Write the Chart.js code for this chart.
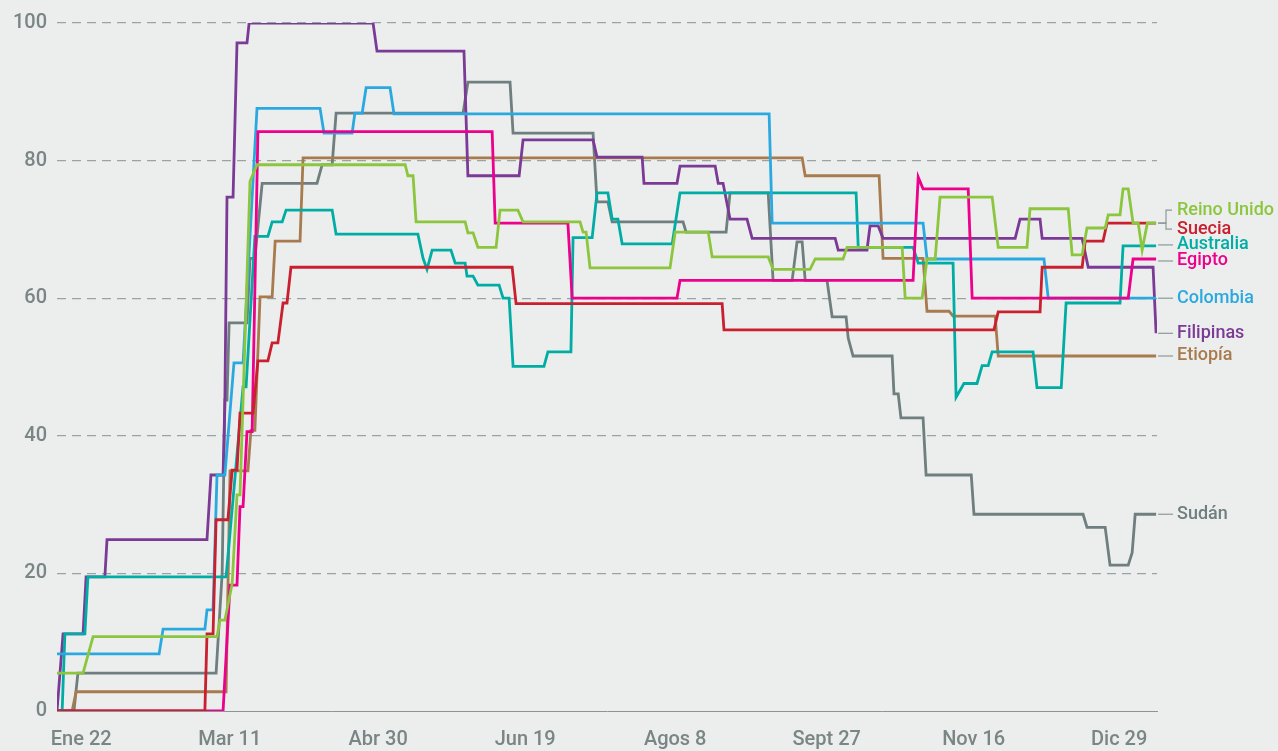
<!DOCTYPE html>
<html>
<head>
<meta charset="utf-8">
<script src="https://cdn.jsdelivr.net/npm/chart.js@4"></script>
<style>
  html, body { margin: 0; padding: 0; background: #eceeed; }
  #wrap { width: 1278px; height: 751px; }
</style>
</head>
<body>
<div id="wrap"><canvas id="chart" width="1278" height="751"></canvas></div>
<script>
// x = days since the start of the series, y = index value
const tickDays = [8, 57, 106, 154.5, 204, 254, 302.5, 350.5];
const tickLabels = ['Ene 22', 'Mar 11', 'Abr 30', 'Jun 19', 'Agos 8', 'Sept 27', 'Nov 16', 'Dic 29'];

const reinoUnido = [[0,5.5],[8.6,5.5],[11.9,10.8],[52.8,10.8],[53.8,13.2],[55.4,13.2],[57.8,18.5],[59.4,31.4],[60.4,31.4],[63.7,77],[66,79.4],[114.9,79.4],[115.8,77.8],[117.5,77.8],[118.5,71.1],[134.7,71.1],[135.6,69.5],[137.3,69.5],[138.9,67.4],[144.9,67.4],[146.2,72.8],[152.1,72.8],[153.8,71.1],[172.6,71.1],[173.6,69.6],[174.6,69.6],[175.9,64.4],[202.3,64.4],[204,69.6],[214.9,69.6],[216.2,66],[234.7,66],[236.3,64.2],[248.5,64.2],[250.2,65.7],[259.4,65.7],[260.7,67.4],[278.9,67.4],[279.9,60],[285.5,60],[287.1,65.7],[289.8,65.7],[291.4,74.7],[308.6,74.7],[310.6,67.4],[320.1,67.4],[321.1,73],[333.7,73],[335,66.3],[338.3,66.3],[339.9,70.2],[345.9,70.2],[346.9,72.1],[350.8,72.1],[351.8,75.9],[353.5,75.9],[355.1,70.9],[356.8,70.9],[358.1,67],[359.8,70.9],[362.7,70.9]];
const suecia = [[0,0],[48.8,0],[49.5,11.2],[51.5,11.2],[52.5,27.8],[56.4,27.8],[57.8,35],[59.4,35],[60.4,43.3],[64.7,43.3],[66.3,50.9],[69.6,50.9],[71,53.5],[72.9,53.5],[74.6,59.3],[75.9,59.3],[77.2,64.5],[150.2,64.5],[151.5,59.2],[219.5,59.2],[220.1,55.4],[309.2,55.4],[310.6,58],[324.4,58],[325.1,64.5],[338.3,64.5],[339.3,68.3],[345.2,68.3],[346.5,70.9],[362.7,70.9]];
const australia = [[0,0],[1.7,0],[2.6,11.2],[9.2,11.2],[10.2,19.5],[55.8,19.5],[61.4,47.1],[62.4,47.1],[65.3,69],[69.6,69],[71,71.1],[74.3,71.1],[75.6,72.8],[90.8,72.8],[92.1,69.3],[119.1,69.3],[120.8,65.8],[122.1,64.2],[123.8,67],[130,67],[131.4,65.1],[134.7,65.1],[135.3,63.2],[137.3,63.2],[138.9,61.9],[145.9,61.9],[147.2,60],[149.2,60],[150.5,50.1],[160.7,50.1],[162,52.2],[169.6,52.2],[170.3,68.8],[176.6,68.8],[178.2,75.3],[181.8,75.3],[183.2,71.5],[185.1,71.5],[186.5,67.9],[203,67.9],[205.6,75.3],[263.7,75.3],[264.4,67.4],[282.5,67.4],[284.2,65.1],[295.7,65.1],[296.7,45.6],[299.3,47.6],[303.6,47.6],[305.3,50.2],[307.3,50.2],[308.6,52.2],[322.1,52.2],[323.4,47],[331.4,47],[333,59.3],[350.8,59.3],[351.8,67.6],[362.7,67.6]];
const egipto = [[0,0],[54.8,0],[57.1,18.3],[59.4,18.3],[60.4,29.7],[61.4,29.7],[62.7,40.6],[64.4,40.6],[66.3,84.2],[143.6,84.2],[144.6,70.9],[168.6,70.9],[170,60],[204.6,60],[205.6,62.6],[282.5,62.6],[284.2,77.6],[285.8,75.9],[300.7,75.9],[302,60],[353.5,60],[355.1,65.7],[362.7,65.7]];
const colombia = [[0,8.3],[33.7,8.3],[35,11.9],[48.8,11.9],[49.5,14.7],[51.5,14.7],[52.8,34.3],[55.4,34.3],[58.4,50.6],[61.4,50.6],[66,87.6],[86.8,87.6],[88.1,84],[97.4,84],[98.3,86.9],[100.7,86.9],[102,90.6],[109.9,90.6],[111.2,86.8],[235,86.8],[236,70.9],[285.8,70.9],[287.1,65.7],[325.7,65.7],[327.1,60],[362.7,60]];
const filipinas = [[0,0],[0.3,0],[2,11.2],[8.6,11.2],[9.6,19.5],[15.8,19.5],[16.5,24.9],[49.5,24.9],[50.8,34.3],[54.8,34.3],[55.4,45],[56.1,74.7],[58.1,74.7],[59.4,97.1],[62.7,97.1],[63.4,100],[104.3,100],[105.6,95.9],[134.3,95.9],[135.6,77.8],[152.5,77.8],[153.8,83],[176.9,83],[178.2,80.5],[193.1,80.5],[193.7,76.7],[204.6,76.7],[205.6,79.2],[217.2,79.2],[218.2,76.7],[219.8,76.7],[222.1,71.5],[227.7,71.5],[229.4,68.7],[256.8,68.7],[257.8,67],[267.3,67],[268.3,70.5],[271,70.5],[272.6,68.7],[316.2,68.7],[317.8,71.5],[324.4,71.5],[325.1,68.7],[338.3,68.7],[340.3,64.5],[361.7,64.5],[362.7,54.9]];
const etiopia = [[0,0],[5,0],[6.3,2.8],[55.8,2.8],[57.1,34.9],[63,34.9],[64,40.8],[65.3,40.8],[67,60.2],[71,60.2],[72,68.3],[80.2,68.3],[81.2,80.4],[245.9,80.4],[246.9,77.8],[271.3,77.8],[272.6,65.8],[285.8,65.8],[287.1,58.1],[294.4,58.1],[295.7,57.4],[309.6,57.4],[310.6,51.6],[362.7,51.6]];
const sudan = [[0,0],[5.6,0],[6.9,5.5],[52.5,5.5],[54.5,20],[55.4,45.2],[56.1,45.2],[56.8,56.4],[62.7,56.4],[63.7,65.8],[65.3,65.8],[67.7,76.7],[85.8,76.7],[87.5,79.4],[90.8,79.4],[92.1,86.9],[134,86.9],[135.6,91.4],[149.5,91.4],[150.5,84],[176.9,84],[178.2,74],[181.8,74],[183.2,71.1],[206.6,71.1],[207.6,69.6],[220.8,69.6],[222.1,75.3],[234.7,75.3],[236.3,62.6],[242.6,62.6],[244.2,68.2],[245.9,68.2],[246.9,62.6],[254.1,62.6],[255.8,57.3],[260.4,57.3],[261.1,54.2],[262.7,51.6],[275.6,51.6],[276.2,46.1],[277.6,46.1],[278.5,42.6],[285.8,42.6],[286.8,34.3],[301.7,34.3],[302.6,28.6],[338.6,28.6],[339.9,26.7],[345.9,26.7],[347.5,21.2],[353.5,21.2],[354.8,23],[355.8,28.6],[362.7,28.6]];

// first entry is drawn on top
const series = [
  { name: 'Reino Unido', color: '#8cc63e', points: reinoUnido, shift: -13 },
  { name: 'Suecia', color: '#c9202f', points: suecia, shift: 6 },
  { name: 'Egipto', color: '#ec008c', points: egipto, shift: 2 },
  { name: 'Colombia', color: '#2aa9e0', points: colombia, shift: 0 },
  { name: 'Australia', color: '#00ada5', points: australia, shift: -1 },
  { name: 'Filipinas', color: '#7b3a96', points: filipinas, shift: 0 },
  { name: 'Etiopía', color: '#a87b4f', points: etiopia, shift: 0 },
  { name: 'Sudán', color: '#6f7e7e', points: sudan, shift: 0 }
];

const FONT = 'Roboto, "Liberation Sans", Arial, sans-serif';
const GREY = '#7a8585';

const background = {
  id: 'background',
  beforeDraw(chart) {
    const ctx = chart.ctx;
    ctx.save();
    ctx.fillStyle = '#eceeed';
    ctx.fillRect(0, 0, chart.width, chart.height);
    ctx.restore();
  }
};

// country names at the right end of each line
const endLabels = {
  id: 'endLabels',
  afterDatasetsDraw(chart) {
    const ctx = chart.ctx;
    ctx.save();
    ctx.font = '500 18px ' + FONT;
    ctx.textBaseline = 'middle';
    ctx.lineWidth = 1.2;
    ctx.strokeStyle = '#8e9898';
    chart.data.datasets.forEach((ds, i) => {
      const meta = chart.getDatasetMeta(i);
      const last = meta.data[meta.data.length - 1];
      const ly = last.y + ds.labelShift;
      ctx.beginPath();
      if (Math.abs(ds.labelShift) > 4) {
        ctx.moveTo(last.x + 2, last.y);
        ctx.lineTo(1166, last.y);
        ctx.lineTo(1166, ly);
        ctx.lineTo(1172, ly);
      } else {
        ctx.moveTo(last.x + 2, ly);
        ctx.lineTo(1173, ly);
      }
      ctx.stroke();
      ctx.fillStyle = ds.borderColor;
      ctx.fillText(ds.label, 1177, ly);
    });
    ctx.restore();
  }
};

new Chart(document.getElementById('chart'), {
  type: 'line',
  data: {
    datasets: series.map(s => ({
      label: s.name,
      data: s.points.map(([x, y]) => ({ x, y })),
      borderColor: s.color,
      borderWidth: 2.8,
      pointRadius: 0,
      fill: false,
      tension: 0,
      labelShift: s.shift
    }))
  },
  options: {
    responsive: false,
    animation: false,
    devicePixelRatio: 1,
    layout: { padding: { left: 0, right: 121, top: 23, bottom: 0 } },
    plugins: { legend: { display: false }, tooltip: { enabled: false } },
    scales: {
      x: {
        type: 'linear',
        min: 0,
        max: 363,
        grid: { display: false },
        border: { display: true, color: '#8b9595', width: 1 },
        afterBuildTicks: scale => { scale.ticks = tickDays.map(v => ({ value: v })); },
        afterFit: scale => { scale.height = 40; },
        ticks: {
          autoSkip: false,
          maxRotation: 0,
          padding: 9,
          color: GREY,
          font: { family: FONT, size: 20, weight: '500' },
          callback: (v, i) => tickLabels[i]
        }
      },
      y: {
        min: 0,
        max: 100,
        afterFit: scale => { scale.width = 57; },
        grid: {
          drawTicks: false,
          color: c => c.tick.value === 0 ? 'rgba(0,0,0,0)' : '#9aa3a3',
          lineWidth: 1.3
        },
        border: { display: false, dash: [9, 6] },
        ticks: {
          stepSize: 20,
          padding: 10,
          color: GREY,
          font: { family: FONT, size: 20, weight: '500' }
        }
      }
    }
  },
  plugins: [background, endLabels]
});
</script>
</body>
</html>
